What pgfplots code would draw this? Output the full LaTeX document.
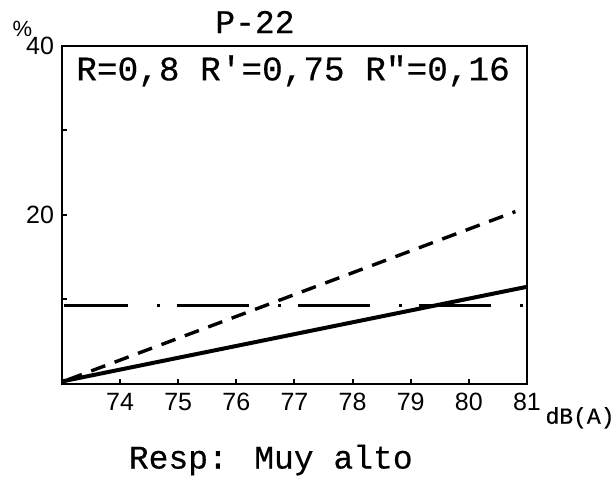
\documentclass[border=0pt]{standalone}
\usepackage{fontspec}
\setmainfont{Liberation Mono}[FakeBold=0.4]
\setsansfont{Liberation Sans}
\usepackage{pgfplots}
\pgfplotsset{compat=1.18}
\begin{document}
\begin{tikzpicture}
\begin{axis}[
  scale only axis, width=232.5pt, height=169pt,
  xmin=73, xmax=81, ymin=0, ymax=40,
  axis line style={line width=1.4pt},
  xtick={74,75,76,77,78,79,80,81},
  ytick={10,20,30,40}, yticklabels={,20,,40},
  tick align=inside, xtick pos=bottom, ytick pos=left,
  major tick length=2.5pt,
  tick style={line width=1pt, black},
  ticklabel style={font=\sffamily\fontsize{12.5}{14}\selectfont},
  /pgf/number format/assume math mode=true,
  xticklabel style={yshift=-1pt},
  yticklabel style={xshift=-0.5pt},
  clip=false,
]
% dash-dot horizontal line
\addplot[black, line width=1.5pt, dash pattern=on 36pt off 14.5pt on 1.5pt off 8.5pt, dash phase=4pt] coordinates {(73.03,9.23) (80.95,9.23)};
% dashed line
\addplot[black, line width=1.7pt, dash pattern=on 7.5pt off 5pt] coordinates {(73.1,0.5) (80.8,20.4)};
% solid line
\addplot[black, line width=2pt] coordinates {(73,0.3) (81,11.5)};
\node[font=\fontsize{16.5}{18}\selectfont] at (rel axis cs:0.415,1.071) {P-22};
\node[font=\fontsize{17.2}{19}\selectfont, anchor=west, inner sep=0pt] at (rel axis cs:0.030,0.926) {R=0,8 R\textquotesingle=0,75 R\textquotedbl=0,16};
\node[font=\fontsize{16.5}{18}\selectfont] at (rel axis cs:0.449,-0.225) {Resp: Muy alto};
\node[font=\fontsize{11.5}{13}\selectfont, anchor=west, inner sep=0pt] at (rel axis cs:1.039,-0.10) {dB(A)};
\node[font=\sffamily\fontsize{11}{12}\selectfont, inner sep=0pt] at (rel axis cs:-0.085,1.05) {\%};
\coordinate (bbll) at (rel axis cs:-0.1333,-0.2959);
\coordinate (bbur) at (rel axis cs:1.1914,1.136);
\end{axis}
\pgfresetboundingbox
\path[use as bounding box] (bbll) rectangle (bbur);
\end{tikzpicture}
\end{document}
